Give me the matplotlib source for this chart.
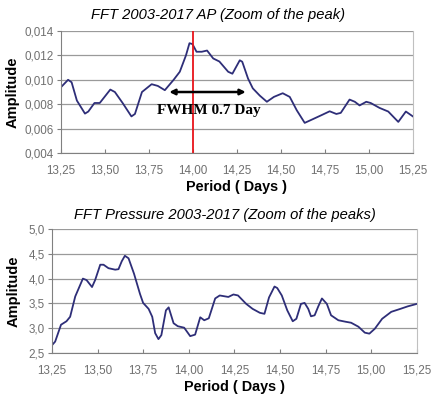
import matplotlib
matplotlib.use("Agg")
import matplotlib.pyplot as plt
from matplotlib.ticker import FuncFormatter

# ---- Data: top panel (AP FFT) ----
ap_period = [13.25, 13.29, 13.31, 13.34, 13.386, 13.405, 13.44, 13.47, 13.53, 13.556,
             13.60, 13.65, 13.67, 13.71, 13.765, 13.80, 13.84, 13.89, 13.925, 13.96,
             13.98, 13.997, 14.02, 14.05, 14.08, 14.115, 14.15, 14.20, 14.224, 14.266,
             14.28, 14.313, 14.34, 14.38, 14.42, 14.46, 14.51, 14.55, 14.59, 14.635,
             14.67, 14.73, 14.777, 14.815, 14.84, 14.89, 14.92, 14.947, 14.985, 15.01,
             15.06, 15.11, 15.167, 15.21, 15.25]
ap_amp = [0.0094, 0.0100, 0.0098, 0.0083, 0.00723, 0.0074, 0.0081, 0.0081, 0.0092, 0.0090,
          0.0081, 0.0070, 0.0072, 0.0090, 0.00964, 0.0095, 0.00915, 0.0100, 0.01066, 0.0120,
          0.0130, 0.01293, 0.0123, 0.0123, 0.0124, 0.01175, 0.0115, 0.01066, 0.0105, 0.0116,
          0.01148, 0.0101, 0.0093, 0.0087, 0.0082, 0.0086, 0.0089, 0.0086, 0.0075, 0.00647,
          0.0067, 0.0071, 0.00742, 0.0072, 0.00729, 0.00838, 0.0082, 0.0079, 0.0082, 0.0081,
          0.0077, 0.0074, 0.00655, 0.0074, 0.0070]
peak_period = 14.0
fwhm_start, fwhm_end, fwhm_level = 13.865, 14.30, 0.0090
fwhm_label = "FWHM 0.7 Day"

# ---- Data: bottom panel (Pressure FFT) ----
pr_period = [13.25, 13.268, 13.30, 13.33, 13.35, 13.378, 13.42, 13.44, 13.47, 13.487,
             13.515, 13.533, 13.56, 13.597, 13.615, 13.633, 13.65, 13.67, 13.70, 13.733,
             13.75, 13.78, 13.80, 13.816, 13.834, 13.85, 13.875, 13.89, 13.917, 13.94,
             13.975, 14.008, 14.035, 14.063, 14.085, 14.11, 14.145, 14.17, 14.217, 14.245,
             14.27, 14.315, 14.35, 14.39, 14.415, 14.44, 14.47, 14.485, 14.51, 14.54,
             14.57, 14.59, 14.615, 14.635, 14.655, 14.67, 14.69, 14.71, 14.73, 14.757,
             14.78, 14.82, 14.86, 14.89, 14.93, 14.965, 14.99, 15.02, 15.06, 15.11,
             15.16, 15.20, 15.25]
pr_amp = [2.655, 2.73, 3.07, 3.14, 3.23, 3.64, 4.00, 3.97, 3.83, 3.97,
          4.28, 4.28, 4.21, 4.18, 4.19, 4.35, 4.46, 4.41, 4.10, 3.69,
          3.51, 3.39, 3.23, 2.90, 2.78, 2.86, 3.36, 3.42, 3.10, 3.04,
          3.01, 2.84, 2.87, 3.22, 3.16, 3.20, 3.60, 3.66, 3.63, 3.68,
          3.66, 3.49, 3.39, 3.31, 3.29, 3.62, 3.84, 3.81, 3.66, 3.36,
          3.14, 3.19, 3.49, 3.51, 3.39, 3.24, 3.26, 3.44, 3.60, 3.49,
          3.26, 3.16, 3.13, 3.11, 3.03, 2.91, 2.89, 2.99, 3.19, 3.33,
          3.39, 3.44, 3.49]

x_ticks = [13.25, 13.50, 13.75, 14.00, 14.25, 14.50, 14.75, 15.00, 15.25]
ap_yticks = [0.004, 0.006, 0.008, 0.010, 0.012, 0.014]
pr_yticks = [2.5, 3.0, 3.5, 4.0, 4.5, 5.0]

titles = ["FFT 2003-2017 AP (Zoom of the peak)", "FFT Pressure 2003-2017 (Zoom of the peaks)"]
xlabel = "Period ( Days )"
ylabel = "Amplitude"

plt.rcParams['font.family'] = ['Liberation Sans', 'DejaVu Sans']

fig = plt.figure(figsize=(4.36, 3.96), dpi=100)
ax1 = fig.add_axes([0.140, 0.6136, 0.807, 0.3081])
ax2 = fig.add_axes([0.119, 0.1086, 0.837, 0.3131])

line_color = '#2e2e78'
grid_color = '#9a9a9a'
tick_color = '#808080'


def comma_fmt(dec):
    return FuncFormatter(lambda v, p: f"{v:.{dec}f}".replace('.', ','))


def style(ax, yticks, ydec, title, tx, tpad, ylpad):
    ax.set_xlim(13.25, 15.25)
    ax.set_ylim(yticks[0], yticks[-1])
    ax.set_xticks(x_ticks)
    ax.set_yticks(yticks)
    ax.xaxis.set_major_formatter(comma_fmt(2))
    ax.yaxis.set_major_formatter(comma_fmt(ydec))
    ax.grid(axis='y', color=grid_color, linewidth=0.9)
    ax.set_axisbelow(True)
    ax.spines['top'].set_visible(False)
    ax.spines['right'].set_color('#c0c0c0')
    ax.spines['left'].set_color(tick_color)
    ax.spines['bottom'].set_color(tick_color)
    ax.tick_params(axis='x', direction='in', length=3, colors=tick_color,
                   labelsize=8.4, labelcolor='#707070', pad=8)
    ax.tick_params(axis='y', direction='out', length=3, colors=tick_color,
                   labelsize=8.4, labelcolor='#707070', pad=2)
    ax.set_title(title, fontsize=10.6, style='italic', pad=tpad, x=tx)
    ax.set_xlabel(xlabel, fontsize=10.4, fontweight='bold', labelpad=3)
    ax.set_ylabel(ylabel, fontsize=10.5, fontweight='bold', labelpad=ylpad)


ax1.plot(ap_period, ap_amp, color=line_color, linewidth=1.3)
ax1.axvline(peak_period, color='#e8141a', linewidth=1.3)
ax1.annotate('', xy=(fwhm_start, fwhm_level), xytext=(fwhm_end, fwhm_level),
             arrowprops=dict(arrowstyle='<|-|>', color='black', lw=1.8,
                             mutation_scale=8, shrinkA=0, shrinkB=0))
ax1.text(14.09, 0.00745, fwhm_label, ha='center', va='center',
         fontsize=11, fontweight='bold', family=['Liberation Serif', 'DejaVu Serif'])
style(ax1, ap_yticks, 3, titles[0], 0.447, 9, 4)

ax2.plot(pr_period, pr_amp, color=line_color, linewidth=1.3)
style(ax2, pr_yticks, 1, titles[1], 0.475, 7, 6)

fig.savefig('out.png', dpi=100)
